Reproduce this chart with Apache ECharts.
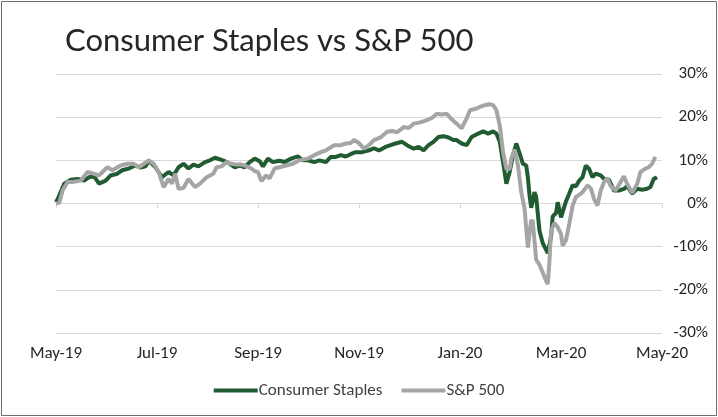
<!DOCTYPE html>
<html>
<head>
<meta charset="utf-8">
<script src="https://cdn.jsdelivr.net/npm/echarts@6/dist/echarts.min.js"></script>
<style>
  html, body { margin: 0; padding: 0; background: #fff; }
  #chart { width: 718px; height: 417px; }
</style>
</head>
<body>
<div id="chart"></div>
<script>
// x = days since 1 May 2019, y = cumulative return in %
const tickLabels = ['May-19', 'Jul-19', 'Sep-19', 'Nov-19', 'Jan-20', 'Mar-20', 'May-20'];

const staplesDays = [
  0, 1, 5, 9, 13, 17, 20, 23, 26, 30, 33, 37, 40, 44, 48, 51, 54, 56, 58, 60,
  64, 68, 71, 74, 77, 80, 83, 86, 90, 93, 96, 99, 102, 105, 108, 111, 114, 117, 120, 123,
  125, 128, 131, 135, 138, 142, 146, 149, 152, 156, 159, 163, 166, 169, 172, 175, 179, 181, 185, 189,
  192, 195, 199, 202, 205, 209, 212, 216, 219, 222, 225, 228, 231, 234, 237, 240, 242, 245, 248, 251,
  255, 258, 261, 264, 266, 268, 270, 272, 274, 276, 278, 280, 282, 284, 285, 286, 287, 289, 290, 292,
  294, 297, 299, 300, 302, 303, 305, 308, 310, 312, 314, 316, 318, 320, 322, 324, 326, 329, 331, 334,
  337, 340, 343, 345, 348, 351, 354, 357, 359, 361, 363
];
const staplesValues = [
  0.3, 1.0, 4.6, 5.5, 5.7, 5.3, 6.1, 6.3, 4.6, 5.3, 6.5, 6.9, 7.7, 8.1, 8.8, 8.3, 8.6, 9.8, 9.2, 8.4,
  6.1, 7.3, 6.5, 8.4, 9.2, 8.1, 9.0, 8.6, 9.6, 10.0, 10.6, 10.2, 9.8, 9.2, 8.4, 8.8, 8.4, 9.6, 10.4, 9.8,
  8.6, 10.4, 9.6, 9.9, 9.6, 10.4, 10.9, 10.0, 10.0, 9.6, 10.0, 9.6, 10.8, 10.8, 11.2, 10.9, 11.6, 11.9, 11.9, 12.3,
  12.8, 12.3, 13.1, 13.5, 13.9, 14.3, 13.5, 12.7, 13.1, 12.3, 13.5, 14.3, 15.4, 15.6, 15.3, 14.7, 14.7, 13.9, 13.5, 15.4,
  16.2, 16.7, 16.2, 16.7, 16.2, 14.3, 9.6, 4.6, 7.3, 11.2, 13.9, 11.6, 9.2, 8.8, 6.0, 1.9, -1.0, 2.6, 1.5, -6.3,
  -9.2, -11.5, -7.6, -3.0, -2.2, 0.3, -3.2, 0.5, 2.3, 4.2, 4.0, 5.3, 6.1, 8.8, 8.0, 6.1, 6.9, 6.5, 5.7, 5.5,
  3.0, 3.0, 3.4, 4.0, 2.3, 3.4, 3.2, 3.4, 3.8, 5.7, 6.1
];

const spDays = [
  0, 2, 4, 7, 10, 15, 19, 22, 26, 31, 34, 39, 43, 47, 50, 53, 56, 59, 62, 65,
  68, 70, 72, 74, 77, 80, 84, 87, 91, 95, 97, 100, 103, 106, 109, 111, 114, 118, 120, 122,
  124, 127, 129, 132, 135, 139, 143, 147, 152, 156, 160, 163, 168, 172, 175, 178, 180, 183, 186, 189,
  192, 196, 200, 203, 206, 210, 213, 216, 220, 224, 227, 230, 233, 236, 239, 242, 245, 248, 250, 254,
  256, 259, 262, 264, 266, 268, 270, 272, 274, 275, 277, 279, 281, 283, 285, 287, 288, 290, 292, 294,
  296, 297, 298, 299, 301, 303, 305, 306, 308, 310, 312, 314, 316, 318, 321, 323, 325, 327, 329, 331,
  333, 335, 338, 341, 343, 345, 348, 351, 353, 356, 358, 360, 362
];
const spValues = [
  0.0, 0.2, 3.0, 5.0, 5.0, 5.3, 7.3, 7.0, 6.5, 8.4, 7.7, 8.8, 9.2, 9.2, 8.4, 9.2, 10.0, 9.2, 7.3, 3.8,
  5.7, 4.6, 6.9, 3.4, 3.6, 5.7, 3.8, 4.6, 6.1, 6.9, 8.4, 8.6, 9.6, 9.2, 9.0, 9.1, 8.8, 8.1, 7.5, 7.3,
  5.2, 6.5, 5.8, 8.1, 8.4, 8.8, 9.2, 10.0, 10.4, 11.2, 11.9, 12.3, 13.5, 13.5, 13.9, 14.0, 14.7, 14.0, 12.7, 13.5,
  14.7, 15.3, 16.6, 16.8, 16.5, 17.7, 17.5, 18.5, 18.8, 19.3, 19.8, 20.8, 20.6, 20.8, 19.5, 18.5, 17.4, 19.7, 21.6, 22.0,
  22.4, 22.8, 23.0, 22.8, 21.6, 18.1, 11.9, 8.0, 8.0, 10.4, 12.5, 8.8, 2.6, -1.2, -10.2, -3.8, -4.3, -13.0, -14.2, -16.0,
  -17.9, -18.7, -13.5, -6.3, -4.5, -5.5, -7.0, -9.8, -8.5, -4.7, -0.5, 1.5, 2.0, 2.6, 4.2, 3.5, 1.0, -0.5, 3.0, 5.0,
  5.8, 4.0, 3.0, 5.0, 6.3, 4.5, 2.5, 4.5, 7.3, 8.1, 8.4, 9.2, 10.8
];

const zip = (xs, ys) => xs.map((x, i) => [x, ys[i]]);

const chart = echarts.init(document.getElementById('chart'));
const font = 'Carlito, Lato, "Liberation Sans", sans-serif';
const dayStep = 61;

const baseX = {
  type: 'value',
  min: 0,
  max: 366,
  interval: dayStep,
  splitLine: { show: false }
};

chart.setOption({
  animation: false,
  backgroundColor: '#fff',
  title: {
    text: 'Consumer Staples vs S&P 500',
    left: 60,
    top: 20,
    textStyle: { fontFamily: 'Lato, sans-serif', fontSize: 31, fontWeight: 'normal', color: '#262626' }
  },
  graphic: [{
    type: 'rect',
    shape: { x: 1.5, y: 1.5, width: 715, height: 414 },
    style: { fill: 'none', stroke: '#6e6e6e', lineWidth: 1 },
    silent: true
  }],
  legend: {
    bottom: 13,
    left: 'center',
    itemWidth: 44,
    itemHeight: 4,
    itemGap: 19,
    icon: 'rect',
    textStyle: { fontFamily: font, fontSize: 17, color: '#404040', padding: [0, 0, 0, -4] },
    data: ['Consumer Staples', 'S&P 500']
  },
  grid: { left: 56, right: 56, top: 74, bottom: 84 },
  xAxis: [
    Object.assign({}, baseX, {
      position: 'bottom',
      axisLine: { show: false, onZero: false },
      axisTick: { show: false },
      axisLabel: {
        margin: 12,
        fontFamily: font,
        fontSize: 17,
        color: '#262626',
        formatter: (v) => tickLabels[Math.round(v / dayStep)]
      }
    }),
    Object.assign({}, baseX, {
      position: 'bottom',
      axisLine: { show: true, onZero: true, lineStyle: { color: '#d9d9d9', width: 1 } },
      axisTick: { show: true, length: 5, lineStyle: { color: '#d9d9d9' } },
      axisLabel: { show: false }
    })
  ],
  yAxis: {
    type: 'value',
    position: 'right',
    min: -30,
    max: 30,
    interval: 10,
    axisLine: { show: false },
    axisTick: { show: false },
    splitLine: { lineStyle: { color: '#d9d9d9', width: 1 } },
    axisLabel: {
      align: 'right',
      margin: 46,
      fontFamily: font,
      fontSize: 17,
      color: '#262626',
      formatter: '{value}%'
    }
  },
  series: [
    {
      name: 'Consumer Staples',
      type: 'line',
      xAxisIndex: 0,
      showSymbol: false,
      color: '#215b32',
      lineStyle: { width: 4, color: '#215b32' },
      data: zip(staplesDays, staplesValues)
    },
    {
      name: 'S&P 500',
      type: 'line',
      xAxisIndex: 0,
      showSymbol: false,
      color: '#a5a5a5',
      lineStyle: { width: 4, color: '#a5a5a5' },
      data: zip(spDays, spValues)
    }
  ]
});
</script>
</body>
</html>
